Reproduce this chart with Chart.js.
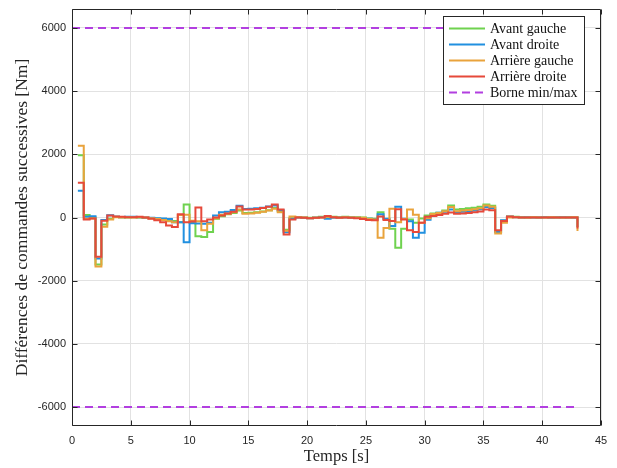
<!DOCTYPE html>
<html>
<head>
<meta charset="utf-8">
<title>Différences de commandes successives</title>
<script src="https://cdn.jsdelivr.net/npm/chart.js@4.4.1/dist/chart.umd.min.js"></script>
<style>
  html, body { margin: 0; padding: 0; background: #ffffff; }
  canvas { display: block; }
</style>
</head>
<body>
<canvas id="diffChart" width="617" height="468"></canvas>
<script>
// ===================================
// DATA (Nm, one value every 0.5 s)
// ===================================
const temps = [
  0.5, 1, 1.5, 2, 2.5, 3, 3.5, 4, 4.5, 5,
  5.5, 6, 6.5, 7, 7.5, 8, 8.5, 9, 9.5, 10,
  10.5, 11, 11.5, 12, 12.5, 13, 13.5, 14, 14.5, 15,
  15.5, 16, 16.5, 17, 17.5, 18, 18.5, 19, 19.5, 20,
  20.5, 21, 21.5, 22, 22.5, 23, 23.5, 24, 24.5, 25,
  25.5, 26, 26.5, 27, 27.5, 28, 28.5, 29, 29.5, 30,
  30.5, 31, 31.5, 32, 32.5, 33, 33.5, 34, 34.5, 35,
  35.5, 36, 36.5, 37, 37.5, 38, 38.5, 39, 39.5, 40,
  40.5, 41, 41.5, 42, 42.5, 43
];

const avantGauche = [
  1970, 80, 10, -1490, -220, -40, 20, 10, 0, 10,
  0, -10, -20, -40, -60, -80, -110, -150, 410, -170,
  -590, -620, -460, -40, 40, 100, 140, 220, 140, 150,
  170, 190, 230, 300, 200, -390, -20, 10, 0, -10,
  0, 20, 10, 20, 10, 20, 10, 10, 0, -30,
  -40, 170, -50, -360, -960, -360, -60, -170, -30, 60,
  130, 150, 220, 380, 250, 270, 290, 310, 340, 410,
  370, -450, -100, 30, 20, 10, 0, 10, 0, 10,
  0, 10, 0, 10, 0, -300
];

const avantDroite = [
  850, 20, 40, -1300, -80, 70, 20, 10, 20, 20,
  10, 0, -10, -20, -30, -50, -150, -150, -780, -180,
  -190, -200, -170, 60, 170, 180, 240, 370, 270, 280,
  290, 310, 350, 380, 230, -470, -40, 0, -10, -20,
  -10, 10, -40, -10, 0, 0, -10, -10, -20, -40,
  -60, 100, -40, -270, 340, -40, -120, -640, -480, -70,
  100, 150, 180, 250, 150, 180, 200, 220, 260, 330,
  300, -460, -90, 20, 10, 0, 10, 0, 0, 10,
  0, 0, 10, 0, 0, -300
];

const arriereGauche = [
  2270, -40, -30, -1550, -290, -60, 10, 0, 10, 0,
  10, 0, -20, -50, -80, -120, -150, 80, 90, -100,
  -120, -400, -200, -20, 90, 120, 170, 250, 120, 130,
  150, 180, 220, 280, 170, -420, 30, 10, 0, -20,
  -10, 0, 20, 10, 0, 10, 0, 0, -10, -50,
  -60, -640, -330, 280, -150, -50, 250, 90, -170, -20,
  110, 140, 200, 330, 200, 220, 240, 260, 290, 380,
  340, -510, -170, 0, 10, 0, 0, 10, 0, 0,
  10, 0, 0, 0, 10, -430
];

const arriereDroite = [
  1100, -60, -30, -1240, -100, 60, 30, 20, 10, 10,
  20, 0, -40, -90, -150, -250, -300, 100, -150, -130,
  320, -120, -60, 0, 60, 130, 180, 350, 250, 250,
  270, 300, 340, 410, 250, -540, -60, 0, -10, -20,
  -10, 0, 50, 10, -10, 0, -10, -20, -50, -80,
  -90, 30, -80, -110, 260, -60, -400, -460, -170, 20,
  50, 80, 120, 160, 120, 130, 140, 170, 190, 250,
  230, -400, -110, 30, 10, 0, 0, 0, 0, 0,
  0, 0, 0, 0, 0, -350
];

const borneTemps = [0, 43];
const borneMax = 6000;
const borneMin = -6000;

const xTicks = [0, 5, 10, 15, 20, 25, 30, 35, 40, 45];
const yTicks = [-6000, -4000, -2000, 0, 2000, 4000, 6000];

const seriesLabels = ['Avant gauche', 'Avant droite', 'Arrière gauche', 'Arrière droite', 'Borne min/max'];
const seriesColors = ['#6fd24f', '#2190e0', '#e9a33c', '#e6493a', '#b23fe0'];

// ===================================
// HELPERS
// ===================================
const toPoints = (xs, ys) => xs.map((t, i) => ({ x: t, y: ys[i] }));

const stepDataset = (label, values, color, order) => ({
    label: label,
    data: toPoints(temps, values),
    borderColor: color,
    borderWidth: 2,
    stepped: true,
    pointRadius: 0,
    fill: false,
    order: order
});

const boundDataset = (value) => ({
    label: seriesLabels[4],
    data: borneTemps.map(t => ({ x: t, y: value })),
    borderColor: seriesColors[4],
    borderWidth: 2,
    borderDash: [8, 5],
    pointRadius: 0,
    fill: false,
    order: 0
});

// box around the axes + inward tick marks (MATLAB style)
const axesFrame = {
    id: 'axesFrame',
    afterDatasetsDraw(chart) {
        const { ctx, chartArea: a, scales } = chart;
        const L = Math.round(a.left) + 0.5, R = Math.round(a.right) - 0.5;
        const T = Math.round(a.top) + 0.5, B = Math.round(a.bottom) - 0.5;
        ctx.save();
        ctx.strokeStyle = '#262626';
        ctx.lineWidth = 1;
        ctx.beginPath();
        ctx.rect(L, T, R - L, B - T);
        xTicks.forEach(v => {
            const px = Math.round(scales.x.getPixelForValue(v)) + 0.5;
            ctx.moveTo(px, B); ctx.lineTo(px, B - 5);
            ctx.moveTo(px, T); ctx.lineTo(px, T + 5);
        });
        yTicks.forEach(v => {
            const py = Math.round(scales.y.getPixelForValue(v)) + 0.5;
            ctx.moveTo(L, py); ctx.lineTo(L + 5, py);
            ctx.moveTo(R, py); ctx.lineTo(R - 5, py);
        });
        ctx.stroke();
        ctx.restore();
    }
};

// legend drawn inside the plot, top right
const insideLegend = {
    id: 'insideLegend',
    afterDraw(chart) {
        const { ctx } = chart;
        const box = { x: 443.5, y: 16.5, w: 141, h: 88 };
        ctx.save();
        ctx.fillStyle = '#ffffff';
        ctx.fillRect(box.x, box.y, box.w, box.h);
        ctx.strokeStyle = '#262626';
        ctx.lineWidth = 1;
        ctx.strokeRect(box.x, box.y, box.w, box.h);
        ctx.font = '14px "Liberation Serif", "Times New Roman", serif';
        ctx.textBaseline = 'middle';
        ctx.textAlign = 'left';
        seriesLabels.forEach((label, i) => {
            const yy = 28.5 + i * 16;
            ctx.strokeStyle = seriesColors[i];
            ctx.lineWidth = 2;
            ctx.setLineDash(i === 4 ? [8, 5] : []);
            ctx.beginPath();
            ctx.moveTo(449, yy);
            ctx.lineTo(485, yy);
            ctx.stroke();
            ctx.fillStyle = '#111111';
            ctx.fillText(label, 490, yy + 0.5);
        });
        ctx.restore();
    }
};

// ===================================
// CHART
// ===================================
const tickFont = { family: '"Liberation Sans", Arial, Helvetica, sans-serif', size: 11 };
const serifFamily = '"Liberation Serif", "Times New Roman", serif';

new Chart(document.getElementById('diffChart'), {
    type: 'line',
    data: {
        datasets: [
            stepDataset(seriesLabels[0], avantGauche, seriesColors[0], 4),
            stepDataset(seriesLabels[1], avantDroite, seriesColors[1], 3),
            stepDataset(seriesLabels[2], arriereGauche, seriesColors[2], 2),
            stepDataset(seriesLabels[3], arriereDroite, seriesColors[3], 1),
            boundDataset(borneMax),
            boundDataset(borneMin)
        ]
    },
    options: {
        responsive: false,
        animation: false,
        layout: { padding: { left: 0, right: 16, top: 9, bottom: 0 } },
        plugins: {
            legend: { display: false },
            tooltip: { enabled: false }
        },
        scales: {
            x: {
                type: 'linear',
                min: 0,
                max: 45,
                afterBuildTicks: s => { s.ticks = xTicks.map(v => ({ value: v })); },
                afterFit: s => { s.height = 42; s.paddingLeft = 0; s.paddingRight = 0; },
                grid: { color: '#e2e2e2', lineWidth: 1, drawTicks: false },
                border: { display: false },
                ticks: {
                    padding: 8,
                    color: '#262626',
                    font: tickFont,
                    maxRotation: 0,
                    callback: v => String(v)
                },
                title: {
                    display: true,
                    text: 'Temps [s]',
                    color: '#262626',
                    font: { family: serifFamily, size: 16.5 },
                    padding: { top: 0, bottom: 1 }
                }
            },
            y: {
                type: 'linear',
                min: -6600,
                max: 6600,
                afterBuildTicks: s => { s.ticks = yTicks.map(v => ({ value: v })); },
                afterFit: s => { s.width = 72; s.paddingTop = 0; s.paddingBottom = 0; },
                grid: { color: '#e2e2e2', lineWidth: 1, drawTicks: false },
                border: { display: false },
                ticks: {
                    padding: 6,
                    color: '#262626',
                    font: tickFont,
                    callback: v => String(v)
                },
                title: {
                    display: true,
                    text: 'Différences de commandes successives [Nm]',
                    color: '#262626',
                    font: { family: serifFamily, size: 17.5 },
                    padding: { top: 12, bottom: 0 }
                }
            }
        }
    },
    plugins: [axesFrame, insideLegend]
});
</script>
</body>
</html>
